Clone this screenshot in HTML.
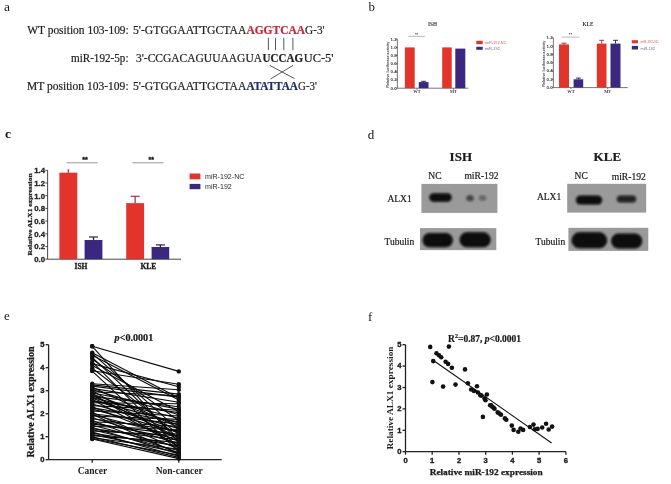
<!DOCTYPE html>
<html><head><meta charset="utf-8">
<style>
html,body{margin:0;padding:0;background:#fff;width:671px;height:484px;overflow:hidden}
svg{display:block}
.serif{font-family:"Liberation Serif",serif}
.sans{font-family:"Liberation Sans",sans-serif}
</style></head><body>
<svg style="filter:blur(0.3px)" width="671" height="484" viewBox="0 0 671 484">
<defs>
<filter id="blur1" x="-50%" y="-50%" width="200%" height="200%"><feGaussianBlur stdDeviation="1.6"/></filter>
<filter id="blur2" x="-50%" y="-50%" width="200%" height="200%"><feGaussianBlur stdDeviation="0.9"/></filter>
<filter id="soft" x="-10%" y="-10%" width="120%" height="120%"><feGaussianBlur stdDeviation="0.35"/></filter>
</defs>
<rect width="671" height="484" fill="#fff"/>

<text x="3.9" y="11.3" font-size="13.5" font-family="Liberation Serif" fill="#1a1a1a">a</text>
<g font-family="Liberation Serif" fill="#1e1e1e">
<text x="27.2" y="0" transform="translate(0 34.2) scale(1 1.09)" font-size="11.4" textLength="101.6" lengthAdjust="spacingAndGlyphs" stroke="#1e1e1e" stroke-width="0.2" >WT position 103-109:</text>
<text x="133" y="0" transform="translate(0 34.2) scale(1 1.09)" font-size="11.4" textLength="113.4" lengthAdjust="spacingAndGlyphs" stroke="#1e1e1e" stroke-width="0.2" >5&#39;-GTGGAATTGCTAA</text>
<text x="246.4" y="0" transform="translate(0 34.2) scale(1 1.09)" font-size="11.4" textLength="58.7" lengthAdjust="spacingAndGlyphs" stroke="#c4283a" stroke-width="0.2" fill="#c4283a" font-weight="bold">AGGTCAA</text>
<text x="305.1" y="0" transform="translate(0 34.2) scale(1 1.09)" font-size="11.4" textLength="19.5" lengthAdjust="spacingAndGlyphs" stroke="#1e1e1e" stroke-width="0.2" >G-3&#39;</text>
<text x="71" y="0" transform="translate(0 61.6) scale(1 1.09)" font-size="11.4" textLength="57.5" lengthAdjust="spacingAndGlyphs" stroke="#1e1e1e" stroke-width="0.2" >miR-192-5p:</text>
<text x="136" y="0" transform="translate(0 61.6) scale(1 1.09)" font-size="11.4" textLength="126" lengthAdjust="spacingAndGlyphs" stroke="#1e1e1e" stroke-width="0.2" >3&#39;-CCGACAGUUAAGUA</text>
<text x="262.6" y="0" transform="translate(0 61.6) scale(1 1.09)" font-size="11.4" textLength="40.5" lengthAdjust="spacingAndGlyphs" stroke="#1e1e1e" stroke-width="0.2" font-weight="bold">UCCAG</text>
<text x="303.7" y="0" transform="translate(0 61.6) scale(1 1.09)" font-size="11.4" textLength="29.8" lengthAdjust="spacingAndGlyphs" stroke="#1e1e1e" stroke-width="0.2" >UC-5&#39;</text>
<text x="27" y="0" transform="translate(0 90) scale(1 1.09)" font-size="11.4" textLength="101.6" lengthAdjust="spacingAndGlyphs" stroke="#1e1e1e" stroke-width="0.2" >MT position 103-109:</text>
<text x="133" y="0" transform="translate(0 90) scale(1 1.09)" font-size="11.4" textLength="113.4" lengthAdjust="spacingAndGlyphs" stroke="#1e1e1e" stroke-width="0.2" >5&#39;-GTGGAATTGCTAA</text>
<text x="246.4" y="0" transform="translate(0 90) scale(1 1.09)" font-size="11.4" textLength="51.6" lengthAdjust="spacingAndGlyphs" stroke="#1f2b66" stroke-width="0.2" fill="#1f2b66" font-weight="bold">ATATTAA</text>
<text x="298" y="0" transform="translate(0 90) scale(1 1.09)" font-size="11.4" textLength="19" lengthAdjust="spacingAndGlyphs" stroke="#1e1e1e" stroke-width="0.2" >G-3&#39;</text>
</g>
<g stroke="#444" stroke-width="0.9">
<line x1="268.4" y1="37.8" x2="268.4" y2="50.2"/>
<line x1="275.5" y1="37.8" x2="275.5" y2="50.2"/>
<line x1="283.8" y1="37.8" x2="283.8" y2="50.2"/>
<line x1="292.9" y1="37.8" x2="292.9" y2="50.2"/>
<line x1="269.8" y1="65.4" x2="294.5" y2="78.6"/><line x1="293" y1="65.4" x2="270.5" y2="79"/>
</g>
<text x="368.5" y="11" font-size="13" font-family="Liberation Serif" fill="#1a1a1a">b</text>
<g stroke="#555" stroke-width="0.8" fill="none">
<line x1="397.4" y1="39.2" x2="397.4" y2="88.2"/>
<line x1="397.4" y1="88.2" x2="468.4" y2="88.2"/>
<line x1="395.9" y1="88.2" x2="397.4" y2="88.2"/>
<line x1="395.9" y1="80.0" x2="397.4" y2="80.0"/>
<line x1="395.9" y1="71.9" x2="397.4" y2="71.9"/>
<line x1="395.9" y1="63.7" x2="397.4" y2="63.7"/>
<line x1="395.9" y1="55.5" x2="397.4" y2="55.5"/>
<line x1="395.9" y1="47.4" x2="397.4" y2="47.4"/>
<line x1="395.9" y1="39.2" x2="397.4" y2="39.2"/>
<line x1="417" y1="88.2" x2="417" y2="89.7"/>
<line x1="453.5" y1="88.2" x2="453.5" y2="89.7"/>
</g>
<text x="396.59999999999997" y="89.6" font-size="4.4" text-anchor="end" font-family="Liberation Sans" font-weight="bold" fill="#333">0.0</text>
<text x="396.59999999999997" y="81.4" font-size="4.4" text-anchor="end" font-family="Liberation Sans" font-weight="bold" fill="#333">0.2</text>
<text x="396.59999999999997" y="73.3" font-size="4.4" text-anchor="end" font-family="Liberation Sans" font-weight="bold" fill="#333">0.4</text>
<text x="396.59999999999997" y="65.1" font-size="4.4" text-anchor="end" font-family="Liberation Sans" font-weight="bold" fill="#333">0.6</text>
<text x="396.59999999999997" y="56.9" font-size="4.4" text-anchor="end" font-family="Liberation Sans" font-weight="bold" fill="#333">0.8</text>
<text x="396.59999999999997" y="48.8" font-size="4.4" text-anchor="end" font-family="Liberation Sans" font-weight="bold" fill="#333">1.0</text>
<text x="396.59999999999997" y="40.6" font-size="4.4" text-anchor="end" font-family="Liberation Sans" font-weight="bold" fill="#333">1.2</text>
<rect x="404.9" y="47.4" width="9.8" height="40.8" fill="#e3342c"/>
<rect x="418.8" y="82.1" width="9.7" height="6.1" fill="#3a2780"/>
<line x1="423.65000000000003" y1="81.3" x2="423.65000000000003" y2="82.1" stroke="#241a4a" stroke-width="0.9"/>
<line x1="421.15000000000003" y1="81.3" x2="426.15000000000003" y2="81.3" stroke="#241a4a" stroke-width="0.9"/>
<rect x="442.2" y="47.4" width="9.5" height="40.8" fill="#e3342c"/>
<rect x="455.3" y="48.6" width="10" height="39.6" fill="#3a2780"/>
<text x="428" y="26.0" font-size="5.2" font-family="Liberation Serif" font-weight="bold" fill="#333">ISH</text>
<line x1="408.2" y1="36.3" x2="424.9" y2="36.3" stroke="#888" stroke-width="0.6"/>
<text x="416.54999999999995" y="35.5" font-size="4.2" text-anchor="middle" font-family="Liberation Sans" font-weight="bold" fill="#444">**</text>
<text x="389.0" y="64.7" font-size="4.3" text-anchor="middle" font-family="Liberation Sans" font-weight="bold" fill="#4a4a4a" textLength="46" lengthAdjust="spacingAndGlyphs" transform="rotate(-90 389.0 64.7)">Relative luciferase activity</text>
<text x="417" y="93.4" font-size="4.4" text-anchor="middle" font-family="Liberation Serif" font-weight="bold" fill="#444">WT</text>
<text x="453.5" y="93.4" font-size="4.4" text-anchor="middle" font-family="Liberation Serif" font-weight="bold" fill="#444">MT</text>
<g stroke="#555" stroke-width="0.8" fill="none">
<line x1="553.4" y1="37.8" x2="553.4" y2="87.6"/>
<line x1="553.4" y1="87.6" x2="627.6999999999999" y2="87.6"/>
<line x1="551.9" y1="87.6" x2="553.4" y2="87.6"/>
<line x1="551.9" y1="79.3" x2="553.4" y2="79.3"/>
<line x1="551.9" y1="71.0" x2="553.4" y2="71.0"/>
<line x1="551.9" y1="62.7" x2="553.4" y2="62.7"/>
<line x1="551.9" y1="54.4" x2="553.4" y2="54.4"/>
<line x1="551.9" y1="46.1" x2="553.4" y2="46.1"/>
<line x1="551.9" y1="37.8" x2="553.4" y2="37.8"/>
<line x1="571" y1="87.6" x2="571" y2="89.1"/>
<line x1="607.7" y1="87.6" x2="607.7" y2="89.1"/>
</g>
<text x="552.6" y="89.0" font-size="4.4" text-anchor="end" font-family="Liberation Sans" font-weight="bold" fill="#333">0.0</text>
<text x="552.6" y="80.7" font-size="4.4" text-anchor="end" font-family="Liberation Sans" font-weight="bold" fill="#333">0.2</text>
<text x="552.6" y="72.4" font-size="4.4" text-anchor="end" font-family="Liberation Sans" font-weight="bold" fill="#333">0.4</text>
<text x="552.6" y="64.1" font-size="4.4" text-anchor="end" font-family="Liberation Sans" font-weight="bold" fill="#333">0.6</text>
<text x="552.6" y="55.8" font-size="4.4" text-anchor="end" font-family="Liberation Sans" font-weight="bold" fill="#333">0.8</text>
<text x="552.6" y="47.5" font-size="4.4" text-anchor="end" font-family="Liberation Sans" font-weight="bold" fill="#333">1.0</text>
<text x="552.6" y="39.2" font-size="4.4" text-anchor="end" font-family="Liberation Sans" font-weight="bold" fill="#333">1.2</text>
<rect x="559" y="44.4" width="10" height="43.2" fill="#e3342c"/>
<line x1="564.0" y1="43.2" x2="564.0" y2="44.4" stroke="#8a2a35" stroke-width="0.9"/>
<line x1="561.5" y1="43.2" x2="566.5" y2="43.2" stroke="#8a2a35" stroke-width="0.9"/>
<rect x="573.6" y="79.3" width="9.6" height="8.3" fill="#3a2780"/>
<line x1="578.4" y1="78.1" x2="578.4" y2="79.3" stroke="#241a4a" stroke-width="0.9"/>
<line x1="575.9" y1="78.1" x2="580.9" y2="78.1" stroke="#241a4a" stroke-width="0.9"/>
<rect x="596.8" y="43.6" width="9.7" height="44.0" fill="#e3342c"/>
<line x1="601.65" y1="40.3" x2="601.65" y2="43.6" stroke="#8a2a35" stroke-width="0.9"/>
<line x1="599.15" y1="40.3" x2="604.15" y2="40.3" stroke="#8a2a35" stroke-width="0.9"/>
<rect x="610.5" y="43.6" width="10" height="44.0" fill="#3a2780"/>
<line x1="615.5" y1="40.3" x2="615.5" y2="43.6" stroke="#241a4a" stroke-width="0.9"/>
<line x1="613.0" y1="40.3" x2="618.0" y2="40.3" stroke="#241a4a" stroke-width="0.9"/>
<text x="582.4" y="26.0" font-size="5.2" font-family="Liberation Serif" font-weight="bold" fill="#333">KLE</text>
<line x1="561.8" y1="37.1" x2="579.2" y2="37.1" stroke="#888" stroke-width="0.6"/>
<text x="570.5" y="36.300000000000004" font-size="4.2" text-anchor="middle" font-family="Liberation Sans" font-weight="bold" fill="#444">**</text>
<text x="545.0" y="63.699999999999996" font-size="4.3" text-anchor="middle" font-family="Liberation Sans" font-weight="bold" fill="#4a4a4a" textLength="46" lengthAdjust="spacingAndGlyphs" transform="rotate(-90 545.0 63.699999999999996)">Relative luciferase activity</text>
<text x="571" y="92.8" font-size="4.4" text-anchor="middle" font-family="Liberation Serif" font-weight="bold" fill="#444">WT</text>
<text x="607.7" y="92.8" font-size="4.4" text-anchor="middle" font-family="Liberation Serif" font-weight="bold" fill="#444">MT</text>
<rect x="476.3" y="40.8" width="6.4" height="3.4" fill="#e3342c"/><text x="484.9" y="44.2" font-size="4" font-family="Liberation Sans" fill="#d35a55" textLength="21.6" lengthAdjust="spacingAndGlyphs">miR-192-NC</text>
<rect x="476.3" y="46.8" width="6.4" height="3.0" fill="#3a2780"/><text x="484.9" y="49.8" font-size="4" font-family="Liberation Sans" fill="#6a6a9a" textLength="15" lengthAdjust="spacingAndGlyphs">miR-192</text>
<rect x="631.8" y="40.2" width="6.2" height="3.1" fill="#e3342c"/><text x="640.6" y="43.4" font-size="4" font-family="Liberation Sans" fill="#d35a55" textLength="18.3" lengthAdjust="spacingAndGlyphs">miR-192-NC</text>
<rect x="631.8" y="45.9" width="6.2" height="3.6" fill="#3a2780"/><text x="640.6" y="49.5" font-size="4" font-family="Liberation Sans" fill="#6a6a9a" textLength="14.4" lengthAdjust="spacingAndGlyphs">miR-192</text>
<text x="5" y="138.4" font-size="13.5" font-family="Liberation Serif" font-weight="bold" fill="#111">c</text>
<g stroke="#333" stroke-width="0.9" fill="none">
<line x1="47.6" y1="170.3" x2="47.6" y2="259.2"/><line x1="47.6" y1="259.2" x2="181" y2="259.2"/>
<line x1="45.4" y1="259.2" x2="47.6" y2="259.2"/>
<line x1="45.4" y1="246.5" x2="47.6" y2="246.5"/>
<line x1="45.4" y1="233.8" x2="47.6" y2="233.8"/>
<line x1="45.4" y1="221.1" x2="47.6" y2="221.1"/>
<line x1="45.4" y1="208.4" x2="47.6" y2="208.4"/>
<line x1="45.4" y1="195.7" x2="47.6" y2="195.7"/>
<line x1="45.4" y1="183.0" x2="47.6" y2="183.0"/>
<line x1="45.4" y1="170.3" x2="47.6" y2="170.3"/>
</g>
<text x="45.0" y="262.0" font-size="7.8" text-anchor="end" font-family="Liberation Sans" font-weight="bold" fill="#222" stroke="#222" stroke-width="0.3">0.0</text>
<text x="45.0" y="249.3" font-size="7.8" text-anchor="end" font-family="Liberation Sans" font-weight="bold" fill="#222" stroke="#222" stroke-width="0.3">0.2</text>
<text x="45.0" y="236.6" font-size="7.8" text-anchor="end" font-family="Liberation Sans" font-weight="bold" fill="#222" stroke="#222" stroke-width="0.3">0.4</text>
<text x="45.0" y="223.9" font-size="7.8" text-anchor="end" font-family="Liberation Sans" font-weight="bold" fill="#222" stroke="#222" stroke-width="0.3">0.6</text>
<text x="45.0" y="211.2" font-size="7.8" text-anchor="end" font-family="Liberation Sans" font-weight="bold" fill="#222" stroke="#222" stroke-width="0.3">0.8</text>
<text x="45.0" y="198.5" font-size="7.8" text-anchor="end" font-family="Liberation Sans" font-weight="bold" fill="#222" stroke="#222" stroke-width="0.3">1.0</text>
<text x="45.0" y="185.8" font-size="7.8" text-anchor="end" font-family="Liberation Sans" font-weight="bold" fill="#222" stroke="#222" stroke-width="0.3">1.2</text>
<text x="45.0" y="173.1" font-size="7.8" text-anchor="end" font-family="Liberation Sans" font-weight="bold" fill="#222" stroke="#222" stroke-width="0.3">1.4</text>
<rect x="59.4" y="172.8" width="17.9" height="86.4" fill="#e3342c"/><line x1="59.4" y1="173.2" x2="77.3" y2="173.2" stroke="#b83838" stroke-width="0.8" opacity="0.6"/><line x1="68.35" y1="170.0" x2="68.35" y2="172.8" stroke="#b83838" stroke-width="1.3"/><line x1="67.55" y1="170.0" x2="69.14999999999999" y2="170.0" stroke="#b83838" stroke-width="1.2"/>
<rect x="84.6" y="240.1" width="17.8" height="19.1" fill="#3a2780"/><line x1="84.6" y1="240.5" x2="102.39999999999999" y2="240.5" stroke="#2a1f50" stroke-width="0.8" opacity="0.6"/><line x1="93.5" y1="237.0" x2="93.5" y2="240.1" stroke="#2a1f50" stroke-width="1.3"/><line x1="89.0" y1="237.0" x2="98.0" y2="237.0" stroke="#2a1f50" stroke-width="1.2"/>
<rect x="126.2" y="203.3" width="17.9" height="55.9" fill="#e3342c"/><line x1="126.2" y1="203.7" x2="144.1" y2="203.7" stroke="#a83040" stroke-width="0.8" opacity="0.6"/><line x1="135.15" y1="196.3" x2="135.15" y2="203.3" stroke="#a83040" stroke-width="1.3"/><line x1="130.65" y1="196.3" x2="139.65" y2="196.3" stroke="#a83040" stroke-width="1.2"/>
<rect x="151.6" y="247.1" width="17.6" height="12.1" fill="#3a2780"/><line x1="151.6" y1="247.5" x2="169.2" y2="247.5" stroke="#2a1f50" stroke-width="0.8" opacity="0.6"/><line x1="160.4" y1="244.9" x2="160.4" y2="247.1" stroke="#2a1f50" stroke-width="1.3"/><line x1="155.9" y1="244.9" x2="164.9" y2="244.9" stroke="#2a1f50" stroke-width="1.2"/>
<g font-family="Liberation Serif" font-weight="bold" fill="#1a1a1a" stroke="#1a1a1a" stroke-width="0.3" font-size="7.5" text-anchor="middle">
<text x="81" y="269.2">ISH</text><text x="148.3" y="269.2">KLE</text>
</g>
<line x1="66.5" y1="162.8" x2="97.5" y2="162.8" stroke="#999" stroke-width="1"/><line x1="132.4" y1="162.8" x2="163.4" y2="162.8" stroke="#999" stroke-width="1"/>
<text x="85" y="161.5" font-size="7" text-anchor="middle" font-family="Liberation Sans" font-weight="bold" fill="#111" stroke="#111" stroke-width="0.3">**</text><text x="151.3" y="161.5" font-size="7" text-anchor="middle" font-family="Liberation Sans" font-weight="bold" fill="#111" stroke="#111" stroke-width="0.3">**</text>
<text x="31.8" y="214.5" font-size="6.8" text-anchor="middle" textLength="82" lengthAdjust="spacingAndGlyphs" font-family="Liberation Serif" font-weight="bold" fill="#222" stroke="#222" stroke-width="0.25" transform="rotate(-90 31.8 214.5)">Relative ALX1 expression</text>
<rect x="189.6" y="173.5" width="10.8" height="5.8" fill="#e3342c"/><text x="205" y="178.7" font-size="7.4" textLength="39.4" lengthAdjust="spacingAndGlyphs" font-family="Liberation Sans" fill="#2a2a2a">miR-192-NC</text>
<rect x="189.6" y="183.9" width="10.8" height="5.3" fill="#3a2780"/><text x="205" y="189.1" font-size="7.4" textLength="26.8" lengthAdjust="spacingAndGlyphs" font-family="Liberation Sans" fill="#2a2a2a">miR-192</text>
<text x="367.8" y="138.7" font-size="13" font-family="Liberation Serif" fill="#111">d</text>
<g font-family="Liberation Serif" fill="#1a1a1a" stroke="#1a1a1a" stroke-width="0.2">
<text x="449.6" y="160.8" font-size="13" font-weight="bold">ISH</text>
<text x="593.6" y="161.2" font-size="13" font-weight="bold">KLE</text>
<text x="428.3" y="179" font-size="9.5">NC</text><text x="464.4" y="179" font-size="9.6">miR-192</text>
<text x="574.6" y="179.1" font-size="9.5">NC</text><text x="611.7" y="179.6" font-size="9.6">miR-192</text>
<text x="387.4" y="201.5" font-size="9.5">ALX1</text><text x="384.5" y="244.8" font-size="9.5">Tubulin</text>
<text x="536.9" y="199.5" font-size="9.5">ALX1</text><text x="535.5" y="245.3" font-size="9.5">Tubulin</text>
</g>
<rect x="421.4" y="183.9" width="76" height="29" fill="#9a9a9a"/><rect x="429.3" y="193.3" width="22.4" height="8.4" rx="4.2" ry="4.2" fill="#080808" opacity="1" filter="url(#blur2)"/><rect x="466.3" y="195.3" width="7.4" height="5.9" rx="2.95" ry="2.95" fill="#080808" opacity="0.6" filter="url(#blur2)"/><rect x="478.8" y="195.3" width="7.4" height="5.4" rx="2.7" ry="2.7" fill="#080808" opacity="0.35" filter="url(#blur2)"/>
<rect x="420" y="228.1" width="76.3" height="22" fill="#9a9a9a"/><rect x="422.5" y="232.9" width="30.4" height="14.4" rx="7.2" ry="7.2" fill="#080808" opacity="1" filter="url(#blur2)"/><rect x="459.5" y="232.3" width="31.20000000000001" height="14.999999999999995" rx="7.499999999999997" ry="7.499999999999997" fill="#080808" opacity="1" filter="url(#blur2)"/>
<rect x="567.2" y="183.8" width="79" height="28.8" fill="#9a9a9a"/><rect x="575.8" y="195.60000000000002" width="26.4" height="8.9" rx="4.45" ry="4.45" fill="#080808" opacity="1" filter="url(#blur2)"/><rect x="616.8" y="195.5" width="19.4" height="7.000000000000023" rx="3.5000000000000115" ry="3.5000000000000115" fill="#080808" opacity="0.85" filter="url(#blur2)"/>
<rect x="568.4" y="227.8" width="79.9" height="23.1" fill="#9a9a9a"/><rect x="571.5" y="232.3" width="35.69999999999995" height="15.999999999999995" rx="7.999999999999997" ry="7.999999999999997" fill="#080808" opacity="1" filter="url(#blur2)"/><rect x="611.0999999999999" y="233.5" width="31.200000000000067" height="15.000000000000023" rx="7.5000000000000115" ry="7.5000000000000115" fill="#080808" opacity="1" filter="url(#blur2)"/>
<text x="4" y="319.6" font-size="13" font-family="Liberation Serif" fill="#1a1a1a">e</text>
<g stroke="#222" stroke-width="1.3" fill="none">
<line x1="48.6" y1="344.7" x2="48.6" y2="459.7"/><line x1="48.6" y1="459.7" x2="221.7" y2="459.7"/>
<line x1="45.6" y1="459.7" x2="48.6" y2="459.7"/>
<line x1="45.6" y1="436.7" x2="48.6" y2="436.7"/>
<line x1="45.6" y1="413.7" x2="48.6" y2="413.7"/>
<line x1="45.6" y1="390.7" x2="48.6" y2="390.7"/>
<line x1="45.6" y1="367.7" x2="48.6" y2="367.7"/>
<line x1="45.6" y1="344.7" x2="48.6" y2="344.7"/>
<line x1="92.2" y1="459.7" x2="92.2" y2="462.7"/><line x1="178.8" y1="459.7" x2="178.8" y2="462.7"/>
</g>
<text x="44.4" y="461.8" font-size="7.6" text-anchor="end" font-family="Liberation Sans" font-weight="bold" fill="#1a1a1a" stroke="#1a1a1a" stroke-width="0.35">0</text>
<text x="44.4" y="438.8" font-size="7.6" text-anchor="end" font-family="Liberation Sans" font-weight="bold" fill="#1a1a1a" stroke="#1a1a1a" stroke-width="0.35">1</text>
<text x="44.4" y="415.8" font-size="7.6" text-anchor="end" font-family="Liberation Sans" font-weight="bold" fill="#1a1a1a" stroke="#1a1a1a" stroke-width="0.35">2</text>
<text x="44.4" y="392.8" font-size="7.6" text-anchor="end" font-family="Liberation Sans" font-weight="bold" fill="#1a1a1a" stroke="#1a1a1a" stroke-width="0.35">3</text>
<text x="44.4" y="369.8" font-size="7.6" text-anchor="end" font-family="Liberation Sans" font-weight="bold" fill="#1a1a1a" stroke="#1a1a1a" stroke-width="0.35">4</text>
<text x="44.4" y="346.8" font-size="7.6" text-anchor="end" font-family="Liberation Sans" font-weight="bold" fill="#1a1a1a" stroke="#1a1a1a" stroke-width="0.35">5</text>
<text x="34" y="402" font-size="9.4" text-anchor="middle" textLength="111" lengthAdjust="spacingAndGlyphs" font-family="Liberation Serif" font-weight="bold" fill="#1a1a1a" stroke="#1a1a1a" stroke-width="0.25" transform="rotate(-90 34 402)">Relative ALX1 expression</text>
<text x="92.4" y="473.7" font-size="9.5" text-anchor="middle" font-family="Liberation Serif" font-weight="bold" fill="#222">Cancer</text>
<text x="179.2" y="473.9" font-size="9.5" text-anchor="middle" font-family="Liberation Serif" font-weight="bold" fill="#222">Non-cancer</text>
<text x="114.6" y="341.3" font-size="9.3" textLength="38.6" lengthAdjust="spacingAndGlyphs" font-family="Liberation Serif" font-weight="bold" fill="#1a1a1a" stroke="#1a1a1a" stroke-width="0.2"><tspan font-style="italic">p</tspan>&lt;0.0001</text>
<g stroke="#0a0a0a" stroke-width="1.1">
<line x1="92.2" y1="346.3" x2="178.8" y2="371.4"/>
<line x1="92.2" y1="346.3" x2="178.8" y2="442.4"/>
<line x1="92.2" y1="352.8" x2="178.8" y2="398.1"/>
<line x1="92.2" y1="353.4" x2="178.8" y2="429.8"/>
<line x1="92.2" y1="355.3" x2="178.8" y2="399.9"/>
<line x1="92.2" y1="357.3" x2="178.8" y2="439.0"/>
<line x1="92.2" y1="359.0" x2="178.8" y2="420.6"/>
<line x1="92.2" y1="361.9" x2="178.8" y2="448.2"/>
<line x1="92.2" y1="363.6" x2="178.8" y2="386.8"/>
<line x1="92.2" y1="365.4" x2="178.8" y2="411.4"/>
<line x1="92.2" y1="368.2" x2="178.8" y2="434.4"/>
<line x1="92.2" y1="370.7" x2="178.8" y2="384.3"/>
<line x1="92.2" y1="371.1" x2="178.8" y2="451.6"/>
<line x1="92.2" y1="383.8" x2="178.8" y2="389.8"/>
<line x1="92.2" y1="386.1" x2="178.8" y2="397.1"/>
<line x1="92.2" y1="384.9" x2="178.8" y2="394.1"/>
<line x1="92.2" y1="388.4" x2="178.8" y2="402.2"/>
<line x1="92.2" y1="389.6" x2="178.8" y2="414.8"/>
<line x1="92.2" y1="391.8" x2="178.8" y2="395.8"/>
<line x1="92.2" y1="393.0" x2="178.8" y2="409.1"/>
<line x1="92.2" y1="394.1" x2="178.8" y2="425.2"/>
<line x1="92.2" y1="395.3" x2="178.8" y2="437.8"/>
<line x1="92.2" y1="396.4" x2="178.8" y2="406.8"/>
<line x1="92.2" y1="397.6" x2="178.8" y2="418.3"/>
<line x1="92.2" y1="399.4" x2="178.8" y2="445.9"/>
<line x1="92.2" y1="401.1" x2="178.8" y2="412.6"/>
<line x1="92.2" y1="402.7" x2="178.8" y2="403.8"/>
<line x1="92.2" y1="404.0" x2="178.8" y2="428.6"/>
<line x1="92.2" y1="405.6" x2="178.8" y2="410.2"/>
<line x1="92.2" y1="406.8" x2="178.8" y2="441.3"/>
<line x1="92.2" y1="407.9" x2="178.8" y2="421.8"/>
<line x1="92.2" y1="409.1" x2="178.8" y2="432.1"/>
<line x1="92.2" y1="410.9" x2="178.8" y2="416.0"/>
<line x1="92.2" y1="412.6" x2="178.8" y2="449.3"/>
<line x1="92.2" y1="413.7" x2="178.8" y2="424.1"/>
<line x1="92.2" y1="414.8" x2="178.8" y2="436.7"/>
<line x1="92.2" y1="416.0" x2="178.8" y2="419.4"/>
<line x1="92.2" y1="417.8" x2="178.8" y2="443.6"/>
<line x1="92.2" y1="418.8" x2="178.8" y2="430.9"/>
<line x1="92.2" y1="420.6" x2="178.8" y2="452.8"/>
<line x1="92.2" y1="421.8" x2="178.8" y2="426.3"/>
<line x1="92.2" y1="422.9" x2="178.8" y2="439.0"/>
<line x1="92.2" y1="424.1" x2="178.8" y2="434.4"/>
<line x1="92.2" y1="425.2" x2="178.8" y2="447.1"/>
<line x1="92.2" y1="426.3" x2="178.8" y2="429.8"/>
<line x1="92.2" y1="427.5" x2="178.8" y2="453.9"/>
<line x1="92.2" y1="428.6" x2="178.8" y2="440.1"/>
<line x1="92.2" y1="429.8" x2="178.8" y2="450.5"/>
<line x1="92.2" y1="430.9" x2="178.8" y2="435.6"/>
<line x1="92.2" y1="432.1" x2="178.8" y2="456.2"/>
<line x1="92.2" y1="433.2" x2="178.8" y2="445.9"/>
<line x1="92.2" y1="434.4" x2="178.8" y2="452.8"/>
<line x1="92.2" y1="435.6" x2="178.8" y2="442.4"/>
<line x1="92.2" y1="436.7" x2="178.8" y2="457.4"/>
<line x1="92.2" y1="437.8" x2="178.8" y2="449.3"/>
<line x1="92.2" y1="438.5" x2="178.8" y2="455.1"/>
<line x1="92.2" y1="439.0" x2="178.8" y2="458.6"/>
<line x1="92.2" y1="387.2" x2="178.8" y2="427.5"/>
<line x1="92.2" y1="393.5" x2="178.8" y2="447.1"/>
<line x1="92.2" y1="400.4" x2="178.8" y2="422.9"/>
<line x1="92.2" y1="414.2" x2="178.8" y2="453.9"/>
<line x1="92.2" y1="398.1" x2="178.8" y2="433.2"/>
<line x1="92.2" y1="390.7" x2="178.8" y2="440.1"/>
</g><g fill="#111">
<circle cx="92.2" cy="346.3" r="2.2"/><circle cx="178.8" cy="371.4" r="2.2"/>
<circle cx="92.2" cy="346.3" r="2.2"/><circle cx="178.8" cy="442.4" r="2.2"/>
<circle cx="92.2" cy="352.8" r="2.2"/><circle cx="178.8" cy="398.1" r="2.2"/>
<circle cx="92.2" cy="353.4" r="2.2"/><circle cx="178.8" cy="429.8" r="2.2"/>
<circle cx="92.2" cy="355.3" r="2.2"/><circle cx="178.8" cy="399.9" r="2.2"/>
<circle cx="92.2" cy="357.3" r="2.2"/><circle cx="178.8" cy="439.0" r="2.2"/>
<circle cx="92.2" cy="359.0" r="2.2"/><circle cx="178.8" cy="420.6" r="2.2"/>
<circle cx="92.2" cy="361.9" r="2.2"/><circle cx="178.8" cy="448.2" r="2.2"/>
<circle cx="92.2" cy="363.6" r="2.2"/><circle cx="178.8" cy="386.8" r="2.2"/>
<circle cx="92.2" cy="365.4" r="2.2"/><circle cx="178.8" cy="411.4" r="2.2"/>
<circle cx="92.2" cy="368.2" r="2.2"/><circle cx="178.8" cy="434.4" r="2.2"/>
<circle cx="92.2" cy="370.7" r="2.2"/><circle cx="178.8" cy="384.3" r="2.2"/>
<circle cx="92.2" cy="371.1" r="2.2"/><circle cx="178.8" cy="451.6" r="2.2"/>
<circle cx="92.2" cy="383.8" r="2.2"/><circle cx="178.8" cy="389.8" r="2.2"/>
<circle cx="92.2" cy="386.1" r="2.2"/><circle cx="178.8" cy="397.1" r="2.2"/>
<circle cx="92.2" cy="384.9" r="2.2"/><circle cx="178.8" cy="394.1" r="2.2"/>
<circle cx="92.2" cy="388.4" r="2.2"/><circle cx="178.8" cy="402.2" r="2.2"/>
<circle cx="92.2" cy="389.6" r="2.2"/><circle cx="178.8" cy="414.8" r="2.2"/>
<circle cx="92.2" cy="391.8" r="2.2"/><circle cx="178.8" cy="395.8" r="2.2"/>
<circle cx="92.2" cy="393.0" r="2.2"/><circle cx="178.8" cy="409.1" r="2.2"/>
<circle cx="92.2" cy="394.1" r="2.2"/><circle cx="178.8" cy="425.2" r="2.2"/>
<circle cx="92.2" cy="395.3" r="2.2"/><circle cx="178.8" cy="437.8" r="2.2"/>
<circle cx="92.2" cy="396.4" r="2.2"/><circle cx="178.8" cy="406.8" r="2.2"/>
<circle cx="92.2" cy="397.6" r="2.2"/><circle cx="178.8" cy="418.3" r="2.2"/>
<circle cx="92.2" cy="399.4" r="2.2"/><circle cx="178.8" cy="445.9" r="2.2"/>
<circle cx="92.2" cy="401.1" r="2.2"/><circle cx="178.8" cy="412.6" r="2.2"/>
<circle cx="92.2" cy="402.7" r="2.2"/><circle cx="178.8" cy="403.8" r="2.2"/>
<circle cx="92.2" cy="404.0" r="2.2"/><circle cx="178.8" cy="428.6" r="2.2"/>
<circle cx="92.2" cy="405.6" r="2.2"/><circle cx="178.8" cy="410.2" r="2.2"/>
<circle cx="92.2" cy="406.8" r="2.2"/><circle cx="178.8" cy="441.3" r="2.2"/>
<circle cx="92.2" cy="407.9" r="2.2"/><circle cx="178.8" cy="421.8" r="2.2"/>
<circle cx="92.2" cy="409.1" r="2.2"/><circle cx="178.8" cy="432.1" r="2.2"/>
<circle cx="92.2" cy="410.9" r="2.2"/><circle cx="178.8" cy="416.0" r="2.2"/>
<circle cx="92.2" cy="412.6" r="2.2"/><circle cx="178.8" cy="449.3" r="2.2"/>
<circle cx="92.2" cy="413.7" r="2.2"/><circle cx="178.8" cy="424.1" r="2.2"/>
<circle cx="92.2" cy="414.8" r="2.2"/><circle cx="178.8" cy="436.7" r="2.2"/>
<circle cx="92.2" cy="416.0" r="2.2"/><circle cx="178.8" cy="419.4" r="2.2"/>
<circle cx="92.2" cy="417.8" r="2.2"/><circle cx="178.8" cy="443.6" r="2.2"/>
<circle cx="92.2" cy="418.8" r="2.2"/><circle cx="178.8" cy="430.9" r="2.2"/>
<circle cx="92.2" cy="420.6" r="2.2"/><circle cx="178.8" cy="452.8" r="2.2"/>
<circle cx="92.2" cy="421.8" r="2.2"/><circle cx="178.8" cy="426.3" r="2.2"/>
<circle cx="92.2" cy="422.9" r="2.2"/><circle cx="178.8" cy="439.0" r="2.2"/>
<circle cx="92.2" cy="424.1" r="2.2"/><circle cx="178.8" cy="434.4" r="2.2"/>
<circle cx="92.2" cy="425.2" r="2.2"/><circle cx="178.8" cy="447.1" r="2.2"/>
<circle cx="92.2" cy="426.3" r="2.2"/><circle cx="178.8" cy="429.8" r="2.2"/>
<circle cx="92.2" cy="427.5" r="2.2"/><circle cx="178.8" cy="453.9" r="2.2"/>
<circle cx="92.2" cy="428.6" r="2.2"/><circle cx="178.8" cy="440.1" r="2.2"/>
<circle cx="92.2" cy="429.8" r="2.2"/><circle cx="178.8" cy="450.5" r="2.2"/>
<circle cx="92.2" cy="430.9" r="2.2"/><circle cx="178.8" cy="435.6" r="2.2"/>
<circle cx="92.2" cy="432.1" r="2.2"/><circle cx="178.8" cy="456.2" r="2.2"/>
<circle cx="92.2" cy="433.2" r="2.2"/><circle cx="178.8" cy="445.9" r="2.2"/>
<circle cx="92.2" cy="434.4" r="2.2"/><circle cx="178.8" cy="452.8" r="2.2"/>
<circle cx="92.2" cy="435.6" r="2.2"/><circle cx="178.8" cy="442.4" r="2.2"/>
<circle cx="92.2" cy="436.7" r="2.2"/><circle cx="178.8" cy="457.4" r="2.2"/>
<circle cx="92.2" cy="437.8" r="2.2"/><circle cx="178.8" cy="449.3" r="2.2"/>
<circle cx="92.2" cy="438.5" r="2.2"/><circle cx="178.8" cy="455.1" r="2.2"/>
<circle cx="92.2" cy="439.0" r="2.2"/><circle cx="178.8" cy="458.6" r="2.2"/>
<circle cx="92.2" cy="387.2" r="2.2"/><circle cx="178.8" cy="427.5" r="2.2"/>
<circle cx="92.2" cy="393.5" r="2.2"/><circle cx="178.8" cy="447.1" r="2.2"/>
<circle cx="92.2" cy="400.4" r="2.2"/><circle cx="178.8" cy="422.9" r="2.2"/>
<circle cx="92.2" cy="414.2" r="2.2"/><circle cx="178.8" cy="453.9" r="2.2"/>
<circle cx="92.2" cy="398.1" r="2.2"/><circle cx="178.8" cy="433.2" r="2.2"/>
<circle cx="92.2" cy="390.7" r="2.2"/><circle cx="178.8" cy="440.1" r="2.2"/>
</g>
<text x="367.9" y="321" font-size="13" font-family="Liberation Serif" fill="#1a1a1a">f</text>
<g stroke="#222" stroke-width="1.3" fill="none">
<line x1="405.5" y1="344.7" x2="405.5" y2="451.7"/><line x1="405.5" y1="451.7" x2="565.9" y2="451.7"/>
<line x1="402.5" y1="451.7" x2="405.5" y2="451.7"/>
<line x1="402.5" y1="430.3" x2="405.5" y2="430.3"/>
<line x1="402.5" y1="408.9" x2="405.5" y2="408.9"/>
<line x1="402.5" y1="387.5" x2="405.5" y2="387.5"/>
<line x1="402.5" y1="366.1" x2="405.5" y2="366.1"/>
<line x1="402.5" y1="344.7" x2="405.5" y2="344.7"/>
<line x1="405.5" y1="451.7" x2="405.5" y2="454.7"/>
<line x1="432.2" y1="451.7" x2="432.2" y2="454.7"/>
<line x1="459.0" y1="451.7" x2="459.0" y2="454.7"/>
<line x1="485.7" y1="451.7" x2="485.7" y2="454.7"/>
<line x1="512.4" y1="451.7" x2="512.4" y2="454.7"/>
<line x1="539.1" y1="451.7" x2="539.1" y2="454.7"/>
<line x1="565.9" y1="451.7" x2="565.9" y2="454.7"/>
</g>
<text x="401.6" y="454.0" font-size="7.6" text-anchor="end" font-family="Liberation Sans" font-weight="bold" fill="#1a1a1a" stroke="#1a1a1a" stroke-width="0.35">0</text>
<text x="401.6" y="432.6" font-size="7.6" text-anchor="end" font-family="Liberation Sans" font-weight="bold" fill="#1a1a1a" stroke="#1a1a1a" stroke-width="0.35">1</text>
<text x="401.6" y="411.2" font-size="7.6" text-anchor="end" font-family="Liberation Sans" font-weight="bold" fill="#1a1a1a" stroke="#1a1a1a" stroke-width="0.35">2</text>
<text x="401.6" y="389.8" font-size="7.6" text-anchor="end" font-family="Liberation Sans" font-weight="bold" fill="#1a1a1a" stroke="#1a1a1a" stroke-width="0.35">3</text>
<text x="401.6" y="368.4" font-size="7.6" text-anchor="end" font-family="Liberation Sans" font-weight="bold" fill="#1a1a1a" stroke="#1a1a1a" stroke-width="0.35">4</text>
<text x="401.6" y="347.0" font-size="7.6" text-anchor="end" font-family="Liberation Sans" font-weight="bold" fill="#1a1a1a" stroke="#1a1a1a" stroke-width="0.35">5</text>
<text x="405.5" y="463.3" font-size="7.6" text-anchor="middle" font-family="Liberation Sans" font-weight="bold" fill="#1a1a1a" stroke="#1a1a1a" stroke-width="0.35">0</text>
<text x="432.2" y="463.3" font-size="7.6" text-anchor="middle" font-family="Liberation Sans" font-weight="bold" fill="#1a1a1a" stroke="#1a1a1a" stroke-width="0.35">1</text>
<text x="459.0" y="463.3" font-size="7.6" text-anchor="middle" font-family="Liberation Sans" font-weight="bold" fill="#1a1a1a" stroke="#1a1a1a" stroke-width="0.35">2</text>
<text x="485.7" y="463.3" font-size="7.6" text-anchor="middle" font-family="Liberation Sans" font-weight="bold" fill="#1a1a1a" stroke="#1a1a1a" stroke-width="0.35">3</text>
<text x="512.4" y="463.3" font-size="7.6" text-anchor="middle" font-family="Liberation Sans" font-weight="bold" fill="#1a1a1a" stroke="#1a1a1a" stroke-width="0.35">4</text>
<text x="539.1" y="463.3" font-size="7.6" text-anchor="middle" font-family="Liberation Sans" font-weight="bold" fill="#1a1a1a" stroke="#1a1a1a" stroke-width="0.35">5</text>
<text x="565.9" y="463.3" font-size="7.6" text-anchor="middle" font-family="Liberation Sans" font-weight="bold" fill="#1a1a1a" stroke="#1a1a1a" stroke-width="0.35">6</text>
<text x="486.2" y="475" font-size="8.9" text-anchor="middle" textLength="113" lengthAdjust="spacingAndGlyphs" font-family="Liberation Serif" font-weight="bold" fill="#1a1a1a" stroke="#1a1a1a" stroke-width="0.25">Relative miR-192 expression</text>
<text x="393" y="398" font-size="8.8" text-anchor="middle" textLength="103" lengthAdjust="spacingAndGlyphs" font-family="Liberation Serif" font-weight="bold" fill="#222" transform="rotate(-90 393 398)">Relative ALX1 expression</text>
<text x="448.1" y="342" font-size="9.5" font-family="Liberation Serif" font-weight="bold" fill="#1a1a1a" stroke="#1a1a1a" stroke-width="0.2">R<tspan font-size="6" dy="-4">2</tspan><tspan dy="4">=0.87, </tspan><tspan font-style="italic">p</tspan>&lt;0.0001</text>
<g fill="#111">
<circle cx="430.2" cy="346.9" r="2.3"/>
<circle cx="448.9" cy="346.6" r="2.3"/>
<circle cx="436.5" cy="353.2" r="2.3"/>
<circle cx="439" cy="355.2" r="2.3"/>
<circle cx="441.2" cy="357.3" r="2.3"/>
<circle cx="433.2" cy="361.1" r="2.3"/>
<circle cx="445.6" cy="361.8" r="2.3"/>
<circle cx="448.1" cy="363.9" r="2.3"/>
<circle cx="451.9" cy="367.7" r="2.3"/>
<circle cx="465" cy="369.4" r="2.3"/>
<circle cx="432.4" cy="382.1" r="2.3"/>
<circle cx="443.1" cy="386.6" r="2.3"/>
<circle cx="455.5" cy="384.6" r="2.3"/>
<circle cx="467.9" cy="383.3" r="2.3"/>
<circle cx="471.2" cy="389.5" r="2.3"/>
<circle cx="477" cy="386.2" r="2.3"/>
<circle cx="477.9" cy="392.5" r="2.3"/>
<circle cx="480.3" cy="395.3" r="2.3"/>
<circle cx="486.9" cy="394.5" r="2.3"/>
<circle cx="484.5" cy="398.6" r="2.3"/>
<circle cx="481.4" cy="395.6" r="2.3"/>
<circle cx="485.5" cy="400.3" r="2.3"/>
<circle cx="490.1" cy="405.3" r="2.3"/>
<circle cx="492.3" cy="406.8" r="2.3"/>
<circle cx="494.5" cy="408.7" r="2.3"/>
<circle cx="499.5" cy="413.6" r="2.3"/>
<circle cx="501" cy="414.7" r="2.3"/>
<circle cx="482.9" cy="416.9" r="2.3"/>
<circle cx="504.9" cy="418.4" r="2.3"/>
<circle cx="506.3" cy="419.8" r="2.3"/>
<circle cx="511.8" cy="425.6" r="2.3"/>
<circle cx="513.6" cy="429.9" r="2.3"/>
<circle cx="518.3" cy="431.8" r="2.3"/>
<circle cx="520.5" cy="428.5" r="2.3"/>
<circle cx="523.1" cy="429.9" r="2.3"/>
<circle cx="529.9" cy="427" r="2.3"/>
<circle cx="533.5" cy="424.6" r="2.3"/>
<circle cx="534.7" cy="429.2" r="2.3"/>
<circle cx="537.6" cy="428.9" r="2.3"/>
<circle cx="542.2" cy="427.5" r="2.3"/>
<circle cx="546.1" cy="423.7" r="2.3"/>
<circle cx="548.7" cy="429.5" r="2.3"/>
<circle cx="552.1" cy="426.6" r="2.3"/>
<circle cx="474" cy="391" r="2.3"/>
<circle cx="497.7" cy="412.4" r="2.3"/>
<circle cx="491.1" cy="405.2" r="2.3"/>
<circle cx="493.6" cy="407.7" r="2.3"/>
</g>
<line x1="432.4" y1="359.8" x2="551.6" y2="443" stroke="#111" stroke-width="1.1"/>
</svg></body></html>
